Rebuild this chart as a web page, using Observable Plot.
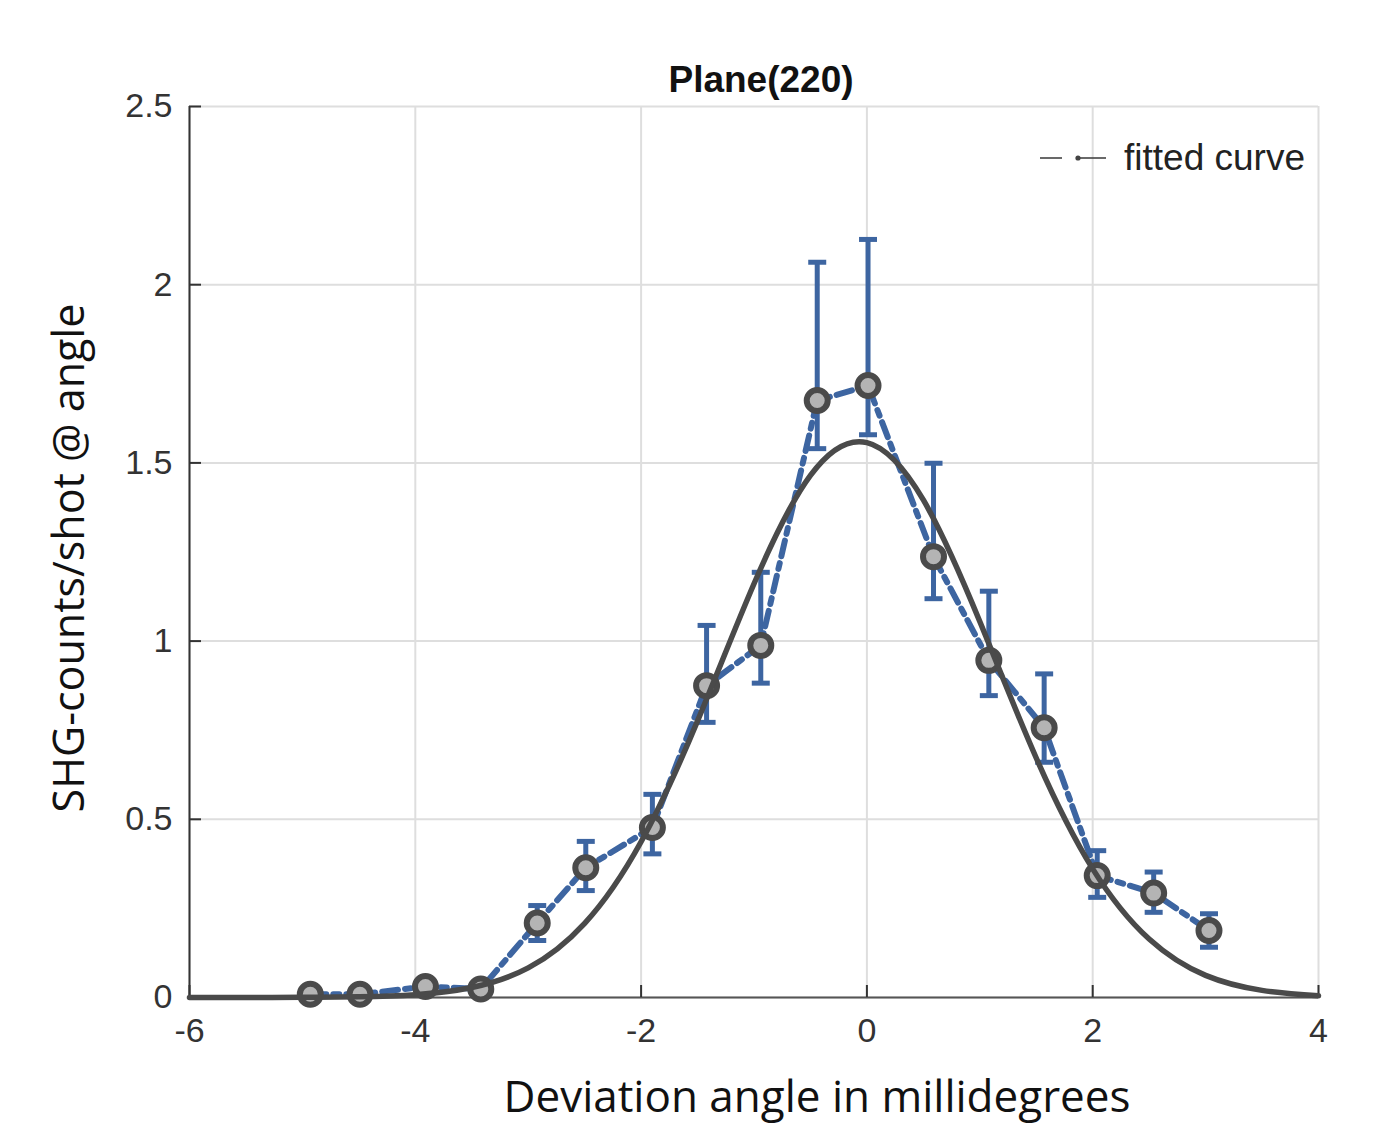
<!DOCTYPE html>
<html>
<head>
<meta charset="utf-8">
<script src="https://cdn.jsdelivr.net/npm/d3@7"></script>
<script src="https://cdn.jsdelivr.net/npm/@observablehq/plot@0.6"></script>
<style>
  body { margin: 0; background: #fff; }
  #chart { position: relative; width: 1391px; height: 1124px; }
  #legend {
    position: absolute; left: 1038px; top: 137px;
    display: flex; align-items: center; gap: 16px;
    font-family: "Liberation Sans", Arial, sans-serif; font-size: 37px; color: #222;
  }
  #legend svg { display: block; }
</style>
</head>
<body>
<div id="chart">
  <div id="legend">
    <svg width="70" height="20" viewBox="0 0 70 20">
      <line x1="2" y1="10" x2="24" y2="10" stroke="#444" stroke-width="1.6"/>
      <circle cx="40" cy="10" r="2.6" fill="#444"/>
      <line x1="40" y1="10" x2="68" y2="10" stroke="#444" stroke-width="1.6"/>
    </svg>
    <span>fitted curve</span>
  </div>
</div>
<script>
// Measured SHG counts per shot at each deviation angle (millidegrees)
const angle   = [-4.93, -4.49, -3.91, -3.42, -2.92, -2.49, -1.90, -1.42, -0.94, -0.44, 0.01, 0.59, 1.08, 1.57, 2.04, 2.54, 3.03];
const counts  = [0.009, 0.009, 0.031, 0.024, 0.209, 0.364, 0.477, 0.875, 0.988, 1.675, 1.717, 1.237, 0.946, 0.757, 0.342, 0.293, 0.188];
const errLow  = [0.004, 0.004, 0.020, 0.014, 0.160, 0.300, 0.403, 0.772, 0.882, 1.540, 1.579, 1.119, 0.847, 0.660, 0.281, 0.239, 0.141];
const errHigh = [0.014, 0.014, 0.042, 0.034, 0.258, 0.438, 0.570, 1.044, 1.193, 2.063, 2.127, 1.499, 1.140, 0.908, 0.412, 0.352, 0.235];

// Fitted curve, sampled along the angle axis
const fitAngle = [-6, -5.5, -5, -4.5, -4, -3.5, -3, -2.5, -2, -1.5, -1, -0.5, 0, 0.5, 1, 1.5, 2, 2.5, 3, 3.5, 4];
const fitValue = [0.000, 0.000, 0.0004, 0.002, 0.008, 0.028, 0.083, 0.208, 0.437, 0.776, 1.161, 1.465, 1.557, 1.396, 1.055, 0.672, 0.361, 0.164, 0.062, 0.020, 0.005];

// Axis ticks
const xTicks = [-6, -4, -2, 0, 2, 4];
const yTicks = [0, 0.5, 1, 1.5, 2, 2.5];

const points = angle.map((a, i) => ({angle: a, counts: counts[i], lo: errLow[i], hi: errHigh[i]}));
const fit = fitAngle.map((a, i) => ({angle: a, value: fitValue[i]}));

const blue = "#3d65a1";
const dark = "#4a4a4a";
const labelFont = "'Open Sans', sans-serif";

// Horizontal cap for the error bars
const capSymbol = {
  draw(context, size) {
    const r = Math.sqrt(size / Math.PI);
    context.moveTo(-r, 0);
    context.lineTo(r, 0);
  }
};

const chart = Plot.plot({
  width: 1391,
  height: 1124,
  marginLeft: 189,
  marginRight: 73,
  marginTop: 106,
  marginBottom: 127,
  style: {fontFamily: "'Liberation Sans', Arial, sans-serif", fontSize: "34px", color: "#333", background: "#fff"},
  x: {domain: [-6, 4]},
  y: {domain: [0, 2.5]},
  marks: [
    Plot.gridX(xTicks, {stroke: "#dedede", strokeOpacity: 1, strokeWidth: 2}),
    Plot.gridY(yTicks, {stroke: "#dedede", strokeOpacity: 1, strokeWidth: 2}),
    Plot.ruleX([-6], {stroke: "#333", strokeWidth: 2}),
    Plot.ruleY([0], {stroke: "#555", strokeWidth: 2}),
    Plot.axisX(xTicks, {tickSize: -12, fill: "none", stroke: "#333", strokeWidth: 2, label: null}),
    Plot.axisY(yTicks, {tickSize: -12, fill: "none", stroke: "#333", strokeWidth: 2, label: null}),
    Plot.axisX(xTicks, {tickSize: 0, tickPadding: 20, label: null, tickFormat: d => String(d), fill: "#333", fontSize: 34}),
    Plot.axisY(yTicks, {tickSize: 0, tickPadding: 17, label: null, tickFormat: d => String(d), fill: "#333", fontSize: 34}),
    // error bars
    Plot.ruleX(points, {x: "angle", y1: "lo", y2: "hi", stroke: blue, strokeWidth: 5}),
    Plot.dot(points, {x: "angle", y: "hi", symbol: capSymbol, r: 9, stroke: blue, strokeWidth: 5, fill: "none"}),
    Plot.dot(points, {x: "angle", y: "lo", symbol: capSymbol, r: 9, stroke: blue, strokeWidth: 5, fill: "none"}),
    // measured series
    Plot.line(points, {x: "angle", y: "counts", stroke: blue, strokeWidth: 6, strokeDasharray: "16,7,6,7"}),
    Plot.dot(points, {x: "angle", y: "counts", r: 10.5, fill: "#b4b4b4", stroke: dark, strokeWidth: 6}),
    // fitted curve
    Plot.line(fit, {x: "angle", y: "value", curve: "natural", stroke: dark, strokeWidth: 5.5, strokeLinecap: "round"}),
    // title and axis labels
    Plot.text(["Plane(220)"], {frameAnchor: "top", dx: 7, dy: -26, lineAnchor: "middle", fontSize: 37, fontWeight: "bold", fill: "#111"}),
    Plot.text(["SHG-counts/shot @ angle"], {frameAnchor: "left", textAnchor: "middle", lineAnchor: "middle", dx: -119, dy: 6, rotate: -90, fontSize: 43, fontFamily: labelFont, fill: "#111"}),
    Plot.text(["Deviation angle in millidegrees"], {frameAnchor: "bottom", lineAnchor: "middle", dx: 63, dy: 100, fontSize: 44, fontFamily: labelFont, fill: "#111"})
  ]
});

document.getElementById("chart").prepend(chart);
</script>
</body>
</html>
